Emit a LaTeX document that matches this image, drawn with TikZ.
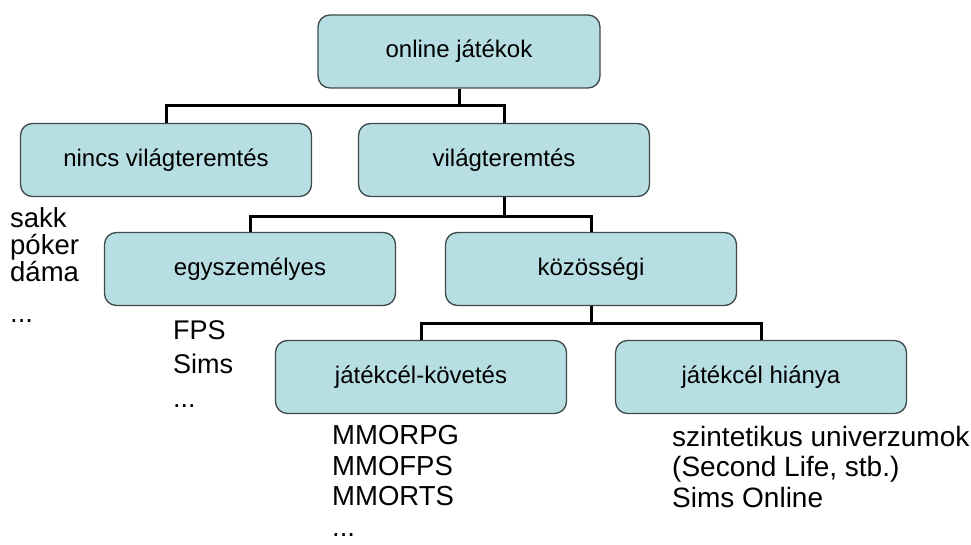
\documentclass[tikz,border=0pt]{standalone}
\usepackage{fontspec}
\setmainfont{Liberation Sans}
\usetikzlibrary{positioning}
\definecolor{dobozkek}{RGB}{183,222,227}
\definecolor{keret}{RGB}{62,74,74}

\begin{document}
\begin{tikzpicture}[x=1pt,y=-1pt,
		doboz/.style={draw=keret,line width=1.3pt,fill=dobozkek,rounded corners=12pt,
			minimum width=291pt,minimum height=73pt,inner sep=0pt,
			font=\fontsize{24}{28}\selectfont},
		ag/.style={line width=3pt,black},
		lista/.style={anchor=base west,align=left,inner sep=0pt}]
	\useasboundingbox (0,0) rectangle (971,545);
	% dobozok
	\node[doboz,minimum width=282pt] (online) at (459,51.5) {online játékok};
	\node[doboz] (nincs) at (166,160) {nincs világteremtés};
	\node[doboz] (vilag) at (504,160) {világteremtés};
	\node[doboz] (egy) at (250,269) {egyszemélyes};
	\node[doboz] (kozos) at (591,269) {közösségi};
	\node[doboz] (kovet) at (421,377) {játékcél-követés};
	\node[doboz] (hiany) at (761,377) {játékcél hiánya};
	% agak
	\draw[ag] (online.south) -- ++(0,17) -| (nincs.north);
	\draw[ag] (online.south) -- ++(0,17) -| (vilag.north);
	\draw[ag] (vilag.south) -- ++(0,19) -| (egy.north);
	\draw[ag] (vilag.south) -- ++(0,19) -| (kozos.north);
	\draw[ag] (kozos.south) -- ++(0,17) -| (kovet.north);
	\draw[ag] (kozos.south) -- ++(0,17) -| (hiany.north);
	% peldak (az utolso sor alapvonalahoz igazitva)
	\node[lista,font=\fontsize{27.5}{27}\selectfont] (sakk) at (10,322)
		{sakk\\póker\\dáma\\[14pt]...};
	\node[lista,font=\fontsize{27}{34}\selectfont] (fps) at (173,407)
		{FPS\\Sims\\...};
	\node[lista,font=\fontsize{27.5}{30.5}\selectfont] (mmo) at (332,536)
		{MMORPG\\MMOFPS\\MMORTS\\...};
	\node[lista,font=\fontsize{28}{30.5}\selectfont] (szint) at (672,507)
		{szintetikus univerzumok\\(Second Life, stb.)\\Sims Online};
\end{tikzpicture}
\end{document}
